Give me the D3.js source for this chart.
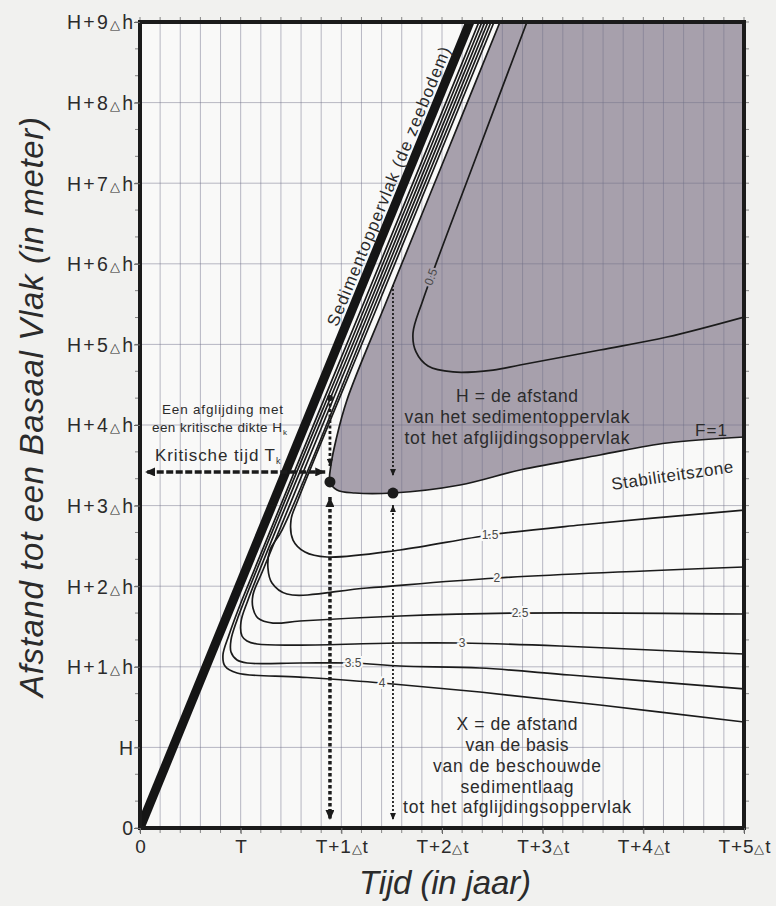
<!DOCTYPE html>
<html lang="nl">
<head>
<meta charset="utf-8">
<title>Stabiliteit van een sedimentlaag</title>
<script src="https://cdn.jsdelivr.net/npm/d3@7/dist/d3.min.js"></script>
<style>
  html, body { margin: 0; padding: 0; background: #f1f1ef; }
  svg { display: block; font-family: "Liberation Sans", Arial, sans-serif; }
</style>
</head>
<body>
<svg id="chart" width="776" height="906"></svg>
<script>
// ---------- data (x in units of time, y in units of height) ----------
const xTickValues = [0, 1, 2, 3, 4, 5, 6];
const xTickLabels = ["0", "T", "T+1Δt", "T+2Δt", "T+3Δt", "T+4Δt", "T+5Δt"];
const yTickValues = [0, 1, 2, 3, 4, 5, 6, 7, 8, 9, 10];
const yTickLabels = ["0", "H", "H+1Δh", "H+2Δh", "H+3Δh", "H+4Δh", "H+5Δh", "H+6Δh", "H+7Δh", "H+8Δh", "H+9Δh"];

// sediment surface (sea floor) rising with time
const sedimentSurface = [[0, 0], [3.277, 10]];

// safety-factor contours F
const contourLevels = ["0.5", "1", "1.5", "2", "2.5", "3", "3.5", "4"];
const contourF05 = [[3.844,10],[3.328,8.288],[2.811,6.551],[2.712,6.141],[2.742,5.906],[2.861,5.732],[3.109,5.658],[3.507,5.682],[3.775,5.744],[4.569,5.931],[5.235,6.092],[6.0,6.340]];
const contourF1 = [[3.576,10],[3.020,8.288],[2.454,6.551],[2.056,5.310],[1.947,4.814],[1.897,4.504],[1.887,4.293],[1.957,4.194],[2.136,4.156],[2.513,4.156],[3.179,4.256],[3.775,4.442],[4.569,4.628],[5.235,4.777],[6.0,4.851]];
const contourF15 = [[3.517,10],[2.384,6.551],[1.569,4.069],[1.500,3.821],[1.520,3.573],[1.639,3.424],[1.858,3.362],[2.583,3.449],[3.477,3.635],[4.371,3.759],[6.0,3.945]];
const contourF2 = [[3.487,10],[2.354,6.551],[1.411,3.697],[1.291,3.449],[1.271,3.226],[1.311,3.040],[1.460,2.903],[2.255,2.978],[3.546,3.102],[6.0,3.238]];
const contourF25 = [[3.457,10],[2.324,6.551],[1.222,3.201],[1.122,2.891],[1.122,2.730],[1.172,2.605],[1.321,2.543],[1.589,2.568],[2.583,2.630],[3.775,2.667],[6.0,2.655]];
const contourF3 = [[3.427,10],[2.295,6.551],[1.073,2.829],[1.003,2.556],[1.013,2.382],[1.063,2.320],[1.162,2.283],[1.589,2.270],[2.583,2.295],[3.199,2.295],[4.172,2.258],[5.295,2.196],[6.0,2.159]];
const contourF35 = [[3.397,10],[2.265,6.551],[0.964,2.581],[0.904,2.333],[0.904,2.184],[0.964,2.084],[1.063,2.047],[1.589,2.047],[2.116,2.047],[2.583,2.010],[3.377,1.985],[4.271,1.898],[6.0,1.725]];
const contourF4 = [[3.367,10],[2.235,6.551],[1.013,2.829],[0.884,2.395],[0.824,2.146],[0.844,2.010],[0.964,1.923],[1.589,1.873],[2.404,1.799],[3.377,1.687],[4.569,1.526],[6.0,1.315]];
const contours = [contourF05, contourF1, contourF15, contourF2, contourF25, contourF3, contourF35, contourF4];

// where each contour carries its value
const contourLabelPoints = [[2.891,6.836],[null,null],[3.477,3.635],[3.546,3.102],[3.775,2.667],[3.199,2.295],[2.116,2.047],[2.404,1.799]];

// critical point (earliest F=1) and lowest point of F=1
const criticalPoint = [1.887, 4.293];
const lowestPoint = [2.513, 4.156];
const thicknessArrow = [[1.887, 5.335], [1.887, 4.49]];
const criticalTimeArrow = [[1.84, 4.417], [0.05, 4.417]];
const timeDropThick = [[1.887, 4.107], [1.887, 0.1]];
const thicknessArrowThin = [[2.513, 6.737], [2.513, 4.367]];
const timeDropThin = [[2.513, 4.007], [2.513, 0.1]];

// ---------- layout ----------
const plot = { left: 140, right: 744, top: 22, bottom: 828 };
const x = d3.scaleLinear().domain([0, 6]).range([plot.left, plot.right]);
const y = d3.scaleLinear().domain([0, 10]).range([plot.bottom, plot.top]);

const ink = "#1b1b1b";
const textInk = "#2b2b2b";
const shade = "#a7a0ac";
const paper = "#f9f9f8";

const svg = d3.select("#chart");
const defs = svg.append("defs");
defs.append("clipPath").attr("id", "plotClip").append("rect")
  .attr("x", plot.left).attr("y", plot.top)
  .attr("width", plot.right - plot.left).attr("height", plot.bottom - plot.top);

function addArrow(id, w, h) {
  defs.append("marker").attr("id", id)
    .attr("viewBox", `0 0 ${w} ${h}`)
    .attr("refX", w).attr("refY", h / 2)
    .attr("markerWidth", w).attr("markerHeight", h)
    .attr("markerUnits", "userSpaceOnUse")
    .attr("orient", "auto-start-reverse")
    .append("path").attr("d", `M0,0L${w},${h / 2}L0,${h}Z`).attr("fill", ink);
}
addArrow("arrowBig", 10, 9);
addArrow("arrowSmall", 7, 6);

// plot background
svg.append("rect")
  .attr("x", plot.left).attr("y", plot.top)
  .attr("width", plot.right - plot.left).attr("height", plot.bottom - plot.top)
  .attr("fill", paper);

const plotG = svg.append("g").attr("clip-path", "url(#plotClip)");
const curved = d3.line().x(d => x(d[0])).y(d => y(d[1])).curve(d3.curveCatmullRom.alpha(0.5));
const straight = d3.line().x(d => x(d[0])).y(d => y(d[1]));

// unstable zone: above the F=1 contour
plotG.append("path")
  .attr("d", curved(contourF1) + `L${x(6)},${y(10)}Z`)
  .attr("fill", shade);

// grid
const gridX = d3.range(1, 30).map(i => i / 5);
const gridY = d3.range(1, 10);
plotG.append("g").selectAll("line").data(gridX).join("line")
  .attr("x1", d => x(d)).attr("x2", d => x(d))
  .attr("y1", plot.top).attr("y2", plot.bottom)
  .attr("stroke", "rgb(110,110,135)").attr("stroke-opacity", 0.48).attr("stroke-width", 1);
plotG.append("g").selectAll("line").data(gridY).join("line")
  .attr("x1", plot.left).attr("x2", plot.right)
  .attr("y1", d => y(d)).attr("y2", d => y(d))
  .attr("stroke", "rgb(110,110,135)").attr("stroke-opacity", 0.48).attr("stroke-width", 1);

// contour lines
plotG.append("g").selectAll("path").data(contours).join("path")
  .attr("d", d => curved(d))
  .attr("fill", "none").attr("stroke", ink).attr("stroke-width", 1.7);

// contour values
contourLabelPoints.forEach((p, i) => {
  if (p[0] === null) return;
  const t = plotG.append("text")
    .attr("x", x(p[0])).attr("y", y(p[1]))
    .attr("text-anchor", "middle").attr("dominant-baseline", "central")
    .attr("font-size", 12).attr("fill", "#4a4a4a")
    .attr("stroke", i === 0 ? shade : paper).attr("stroke-width", 4)
    .attr("paint-order", "stroke")
    .text(contourLevels[i]);
  if (i === 0) {
    const c = contours[0];
    const ang = Math.atan2(y(c[0][1]) - y(c[2][1]), x(c[0][0]) - x(c[2][0])) * 180 / Math.PI;
    t.attr("transform", `rotate(${ang},${x(p[0])},${y(p[1])})`);
  }
});

// sediment surface
plotG.append("path").attr("d", straight(sedimentSurface))
  .attr("fill", "none").attr("stroke", "#151515").attr("stroke-width", 9);

// sediment surface label
{
  const s0 = sedimentSurface[0], s1 = sedimentSurface[1];
  const f = 0.79;
  const px = x(s0[0] + (s1[0] - s0[0]) * f), py = y(s0[1] + (s1[1] - s0[1]) * f);
  const ang = Math.atan2(y(s1[1]) - y(s0[1]), x(s1[0]) - x(s0[0])) * 180 / Math.PI;
  svg.append("text")
    .attr("transform", `translate(${px},${py}) rotate(${ang})`)
    .attr("y", -7).attr("text-anchor", "middle")
    .attr("font-size", 17).attr("fill", textInk)
    .attr("textLength", 300)
    .text("Sedimentoppervlak (de zeebodem)");
}

// annotation arrows
const ann = svg.append("g");
ann.append("path").attr("d", straight(thicknessArrow))
  .attr("stroke", ink).attr("stroke-width", 2.8).attr("stroke-dasharray", "3 2.5")
  .attr("fill", "none").attr("marker-end", "url(#arrowSmall)");
ann.append("circle").attr("cx", x(thicknessArrow[0][0])).attr("cy", y(thicknessArrow[0][1]))
  .attr("r", 3).attr("fill", ink);
ann.append("path").attr("d", straight(criticalTimeArrow))
  .attr("stroke", ink).attr("stroke-width", 3.4).attr("stroke-dasharray", "7 2.5")
  .attr("fill", "none").attr("marker-start", "url(#arrowBig)").attr("marker-end", "url(#arrowBig)");
ann.append("path").attr("d", straight(timeDropThick))
  .attr("stroke", ink).attr("stroke-width", 3.5).attr("stroke-dasharray", "3.5 2.5")
  .attr("fill", "none").attr("marker-start", "url(#arrowBig)").attr("marker-end", "url(#arrowBig)");
ann.append("path").attr("d", straight(thicknessArrowThin))
  .attr("stroke", ink).attr("stroke-width", 1.8).attr("stroke-dasharray", "2 2")
  .attr("fill", "none").attr("marker-end", "url(#arrowSmall)");
ann.append("path").attr("d", straight(timeDropThin))
  .attr("stroke", ink).attr("stroke-width", 1.8).attr("stroke-dasharray", "2 2")
  .attr("fill", "none").attr("marker-start", "url(#arrowSmall)").attr("marker-end", "url(#arrowSmall)");
ann.selectAll("circle.pt").data([criticalPoint, lowestPoint]).join("circle")
  .attr("class", "pt")
  .attr("cx", d => x(d[0])).attr("cy", d => y(d[1]))
  .attr("r", 5.5).attr("fill", ink);

// text annotations
function textLine(tx, ty, str, size, anchor, len) {
  const t = svg.append("text").attr("x", x(tx)).attr("y", y(ty))
    .attr("font-size", size).attr("fill", textInk)
    .attr("text-anchor", anchor).text(str);
  if (len) t.attr("textLength", len);
  return t;
}
textLine(0.219, 5.136, "Een afglijding met", 13.5, "start", 121);
{
  textLine(0.119, 4.913, "een kritische dikte H", 13.5, "start", 130);
  svg.append("text").attr("x", 283).attr("y", y(4.913) + 3)
    .attr("font-size", 8).attr("fill", textInk).text("k");
}
{
  textLine(0.149, 4.553, "Kritische tijd T", 17, "start", 120);
  svg.append("text").attr("x", 276).attr("y", y(4.553) + 3)
    .attr("font-size", 9).attr("fill", textInk).text("k");
}

const upperBlock = ["H = de afstand", "van het sedimentoppervlak", "tot het afglijdingsoppervlak"];
const upperLens = [122, 225, 225];
const upperBase = [5.285, 5.025, 4.764];
upperBlock.forEach((s, i) => textLine(3.745, upperBase[i], s, 17.5, "middle", upperLens[i]));

const lowerBlock = ["X = de afstand", "van de basis", "van de beschouwde", "sedimentlaag", "tot het afglijdingsoppervlak"];
const lowerLens = [121, 103, 168, 113, 228];
const lowerBase = [1.216, 0.955, 0.695, 0.434, 0.186];
lowerBlock.forEach((s, i) => textLine(3.745, lowerBase[i], s, 17.5, "middle", lowerLens[i]));

textLine(5.672, 4.864, "F=1", 17, "middle", 32);
svg.append("text")
  .attr("transform", `translate(${x(5.295)},${y(4.305)}) rotate(-8.3)`)
  .attr("text-anchor", "middle").attr("font-size", 17).attr("fill", textInk)
  .attr("textLength", 123).text("Stabiliteitszone");

// minor ticks around the frame
const tickG = svg.append("g").attr("stroke", "#858585").attr("stroke-width", 1);
const minorX = d3.range(0, 31).map(i => i / 5);
const minorY = d3.range(0, 31).map(i => i / 3);
tickG.selectAll("line.tb").data(minorX).join("line").attr("class", "tb")
  .attr("x1", d => x(d)).attr("x2", d => x(d)).attr("y1", plot.top).attr("y2", plot.top - 5);
tickG.selectAll("line.bb").data(minorX).join("line").attr("class", "bb")
  .attr("x1", d => x(d)).attr("x2", d => x(d)).attr("y1", plot.bottom).attr("y2", plot.bottom + 5);
tickG.selectAll("line.lb").data(minorY).join("line").attr("class", "lb")
  .attr("y1", d => y(d)).attr("y2", d => y(d)).attr("x1", plot.left).attr("x2", plot.left - 5);
tickG.selectAll("line.rb").data(minorY).join("line").attr("class", "rb")
  .attr("y1", d => y(d)).attr("y2", d => y(d)).attr("x1", plot.right).attr("x2", plot.right + 5);

// frame
svg.append("rect")
  .attr("x", plot.left).attr("y", plot.top)
  .attr("width", plot.right - plot.left).attr("height", plot.bottom - plot.top)
  .attr("fill", "none").attr("stroke", ink).attr("stroke-width", 4);

// axes
function fillTickLabel(sel, label) {
  sel.text(null);
  const parts = label.split("Δ");
  sel.append("tspan").text(parts[0]);
  if (parts.length > 1) {
    sel.append("tspan").attr("font-size", 13).text("△");
    sel.append("tspan").text(parts[1]);
  }
}
const gx = svg.append("g").attr("transform", `translate(0,${plot.bottom})`)
  .call(d3.axisBottom(x).tickValues(xTickValues).tickSize(6)
    .tickFormat(d => xTickLabels[xTickValues.indexOf(d)]));
gx.attr("font-size", null).attr("font-family", null);
gx.select(".domain").remove();
gx.selectAll(".tick line").attr("stroke", "#666");
gx.selectAll(".tick text").each(function (d) {
  const label = xTickLabels[xTickValues.indexOf(d)];
  const t = d3.select(this).attr("y", 25).attr("dy", null)
    .attr("font-size", 19).attr("fill", textInk);
  fillTickLabel(t, label);
  if (label.length > 2) t.attr("textLength", 52);
});

const gy = svg.append("g").attr("transform", `translate(${plot.left},0)`)
  .call(d3.axisLeft(y).tickValues(yTickValues).tickSize(6)
    .tickFormat(d => yTickLabels[yTickValues.indexOf(d)]));
gy.attr("font-size", null).attr("font-family", null);
gy.select(".domain").remove();
gy.selectAll(".tick line").attr("stroke", "#666");
gy.selectAll(".tick text").each(function (d) {
  const label = yTickLabels[yTickValues.indexOf(d)];
  const t = d3.select(this).attr("x", -7).attr("dy", "0.35em")
    .attr("font-size", 19.5).attr("fill", textInk);
  fillTickLabel(t, label);
  if (label.length > 2) t.attr("textLength", 66);
});

// axis titles
svg.append("text")
  .attr("transform", `translate(43,${(117 + 697) / 2}) rotate(-90)`)
  .attr("text-anchor", "middle").attr("font-size", 33).attr("font-style", "italic")
  .attr("fill", textInk).attr("textLength", 580)
  .text("Afstand tot een Basaal Vlak (in meter)");
svg.append("text")
  .attr("x", 445).attr("y", 894)
  .attr("text-anchor", "middle").attr("font-size", 33).attr("font-style", "italic")
  .attr("fill", textInk).attr("textLength", 172)
  .text("Tijd (in jaar)");
</script>
</body>
</html>
